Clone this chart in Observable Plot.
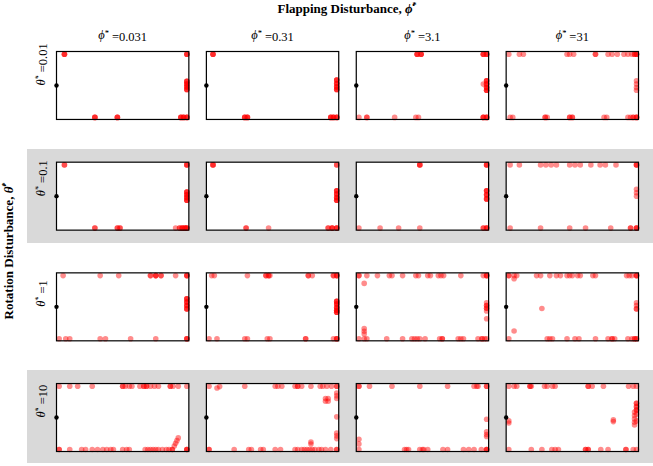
<!DOCTYPE html>
<html><head><meta charset="utf-8">
<script src="https://cdn.jsdelivr.net/npm/d3@7"></script>
<script src="https://cdn.jsdelivr.net/npm/@observablehq/plot@0.6"></script>
<style>
body{margin:0;background:#fff;font-family:"Liberation Serif",serif;}
#wrap{position:relative;width:653px;height:466px;overflow:hidden;background:#fff}
.band{position:absolute;left:27px;width:626px;background:#d9d9d9}
#chart{position:absolute;left:0;top:0}
#title{position:absolute;top:1px;left:0;width:694px;text-align:center;font-weight:bold;font-size:13px;line-height:16px}
#ylab{position:absolute;left:9px;top:251px;transform:translate(-50%,-50%) rotate(-90deg);white-space:nowrap;font-weight:bold;font-size:13px;line-height:16px}
sup{font-size:8px;vertical-align:5px;line-height:0}
</style></head>
<body>
<div id="wrap">
  <div class="band" style="top:149px;height:94px"></div>
  <div class="band" style="top:370px;height:93px"></div>
  <div id="chart"></div>
  <div id="title">Flapping Disturbance, <i>ϕ̇</i><sup>*</sup></div>
  <div id="ylab">Rotation Disturbance, <i>θ̇</i><sup>*</sup></div>
</div>
<script>
// Row (rotation disturbance) and column (flapping disturbance) values
const rowValues = ["0.01", "0.1", "1", "10"];
const colValues = ["0.031", "0.31", "3.1", "31"];
// initial state (black dot)
const startX = [0];
const startY = [0.5];

// final positions per panel: [x, y, count]
const r1c1 = [[0.06,0.96,3],[0.985,0.96,3],[0.985,0.56,3],[0.985,0.52,3],[0.985,0.48,3],[0.985,0.44,3],[0.29,0.03,3],[0.46,0.03,3],[0.94,0.03,3],[0.96,0.03,3],[0.985,0.03,3]];
const r1c2 = [[0.05,0.96,3],[0.985,0.58,3],[0.985,0.53,3],[0.985,0.48,3],[0.985,0.44,3],[0.29,0.03,3],[0.31,0.03,3],[0.94,0.03,3],[0.96,0.03,3],[0.985,0.03,3]];
const r1c3 = [[0.46,0.96,3],[0.49,0.96,3],[0.96,0.96,3],[0.985,0.96,3],[0.985,0.57,3],[0.985,0.52,3],[0.985,0.47,3],[0.985,0.43,3],[0.96,0.52,1],[0.02,0.03,1],[0.08,0.03,2],[0.29,0.03,1],[0.45,0.03,1],[0.47,0.03,1],[0.96,0.03,3],[0.985,0.03,3]];
const r1c4 = [[0.02,0.96,1],[0.10,0.96,1],[0.13,0.96,1],[0.46,0.96,1],[0.48,0.96,1],[0.51,0.96,1],[0.675,0.96,2],[0.77,0.96,1],[0.80,0.96,1],[0.84,0.96,1],[0.89,0.96,1],[0.92,0.96,1],[0.95,0.96,1],[0.97,0.96,2],[0.985,0.96,3],
  [0.985,0.57,1],[0.985,0.52,1],[0.985,0.47,1],[0.985,0.43,1],
  [0.03,0.03,1],[0.05,0.03,1],[0.295,0.03,2],[0.31,0.03,1],[0.48,0.03,2],[0.50,0.03,2],[0.74,0.03,1],[0.76,0.03,1],[0.92,0.03,1],[0.94,0.03,1],[0.96,0.03,2],[0.985,0.03,3]];

const r2c1 = [[0.06,0.96,2],[0.985,0.96,3],[0.985,0.56,3],[0.985,0.52,3],[0.985,0.48,3],[0.985,0.44,3],[0.29,0.03,2],[0.46,0.03,2],[0.48,0.03,2],[0.90,0.03,1],[0.93,0.03,2],[0.95,0.03,3],[0.97,0.03,3],[0.985,0.03,3]];
const r2c2 = [[0.05,0.96,3],[0.985,0.96,2],[0.985,0.58,3],[0.985,0.53,3],[0.985,0.48,3],[0.985,0.44,3],[0.30,0.03,2],[0.47,0.03,1],[0.92,0.03,2],[0.95,0.03,3],[0.985,0.03,3]];
const r2c3 = [[0.48,0.96,3],[0.985,0.96,3],[0.985,0.58,3],[0.985,0.52,3],[0.985,0.46,3],[0.02,0.03,1],[0.18,0.03,1],[0.32,0.03,1],[0.48,0.03,1],[0.96,0.03,2],[0.985,0.03,3]];
const r2c4 = [[0.03,0.96,1],[0.10,0.96,1],[0.26,0.96,1],[0.30,0.96,1],[0.34,0.96,1],[0.38,0.96,1],[0.48,0.96,1],[0.52,0.96,1],[0.56,0.96,1],[0.64,0.96,1],[0.71,0.96,1],[0.75,0.96,1],[0.83,0.96,1],[0.985,0.96,3],
  [0.985,0.6,1],[0.985,0.55,1],[0.985,0.5,1],
  [0.03,0.03,1],[0.26,0.03,1],[0.48,0.03,1],[0.60,0.03,1],[0.79,0.03,1],[0.94,0.03,2],[0.985,0.03,3]];

const r3c1 = [[0.05,0.96,1],[0.33,0.96,1],[0.47,0.96,1],[0.71,0.96,2],[0.75,0.96,3],[0.79,0.96,2],[0.90,0.96,1],[0.985,0.96,3],
  [0.985,0.62,3],[0.985,0.57,3],[0.985,0.52,3],[0.985,0.47,3],
  [0.02,0.03,1],[0.07,0.03,1],[0.10,0.03,1],[0.33,0.03,1],[0.37,0.03,1],[0.56,0.03,1],[0.75,0.03,1],[0.985,0.03,3]];
const r3c2 = [[0.04,0.96,1],[0.06,0.96,1],[0.31,0.96,1],[0.45,0.96,2],[0.47,0.96,2],[0.48,0.96,1],[0.77,0.96,2],[0.80,0.96,1],[0.96,0.96,2],[0.985,0.96,3],
  [0.985,0.58,3],[0.985,0.54,3],[0.985,0.49,3],[0.985,0.45,3],[0.985,0.42,3],
  [0.02,0.03,1],[0.08,0.03,1],[0.29,0.03,1],[0.31,0.03,1],[0.46,0.03,1],[0.48,0.03,1],[0.75,0.03,2],[0.96,0.03,1],[0.985,0.03,3]];
const r3c3 = [[0.02,0.96,2],[0.08,0.96,1],[0.16,0.96,1],[0.25,0.96,1],[0.27,0.96,1],[0.35,0.96,1],[0.45,0.96,1],[0.47,0.96,1],[0.54,0.96,1],[0.56,0.96,1],[0.62,0.96,1],[0.64,0.96,1],[0.66,0.96,1],[0.79,0.96,1],[0.96,0.96,1],[0.985,0.96,3],
  [0.06,0.845,1],[0.06,0.18,1],[0.06,0.14,1],[0.06,0.10,1],
  [0.985,0.56,1],[0.985,0.52,2],[0.985,0.48,2],[0.985,0.44,1],[0.985,0.325,1],
  [0.02,0.03,1],[0.06,0.03,1],[0.08,0.03,1],[0.23,0.03,1],[0.35,0.03,1],[0.42,0.03,1],[0.44,0.03,1],[0.46,0.03,1],[0.48,0.03,1],[0.52,0.03,1],[0.63,0.03,1],[0.65,0.03,2],[0.77,0.03,1],[0.79,0.03,1],[0.81,0.03,1],[0.92,0.03,1],[0.95,0.03,2],[0.97,0.03,1],[0.985,0.03,1]];
const r3c4 = [[0.02,0.96,2],[0.06,0.96,1],[0.08,0.96,1],[0.06,0.915,1],[0.23,0.96,1],[0.26,0.96,1],[0.33,0.96,1],[0.38,0.96,1],[0.41,0.96,1],[0.46,0.96,1],[0.48,0.96,1],[0.50,0.96,1],[0.54,0.96,1],[0.56,0.96,1],[0.655,0.96,1],[0.675,0.96,1],[0.91,0.96,1],[0.93,0.96,1],[0.95,0.96,1],[0.985,0.96,3],
  [0.27,0.475,1],[0.06,0.145,1],
  [0.985,0.56,1],[0.985,0.52,1],[0.985,0.47,2],
  [0.02,0.03,1],[0.31,0.03,1],[0.33,0.03,1],[0.35,0.03,1],[0.46,0.03,1],[0.52,0.03,1],[0.55,0.03,1],[0.675,0.03,1],[0.77,0.03,1],[0.80,0.03,2],[0.82,0.03,1],[0.92,0.03,1],[0.95,0.03,1],[0.97,0.03,2],[0.985,0.03,2]];

const r4c1 = [[0.02,0.96,1],[0.10,0.96,1],[0.16,0.96,1],[0.27,0.96,1],[0.50,0.96,2],[0.52,0.96,1],[0.55,0.96,1],[0.57,0.96,1],[0.63,0.96,1],[0.66,0.96,2],[0.68,0.96,2],[0.71,0.96,1],[0.74,0.96,1],[0.77,0.96,1],[0.86,0.96,2],[0.88,0.96,1],[0.92,0.96,1],[0.985,0.96,1],
  [0.02,0.03,2],[0.10,0.03,1],[0.19,0.03,1],[0.22,0.03,1],[0.27,0.03,1],[0.31,0.03,1],[0.35,0.03,1],[0.38,0.03,1],[0.41,0.03,1],[0.43,0.03,1],[0.50,0.03,1],[0.53,0.03,1],[0.55,0.03,1],[0.67,0.03,1],[0.69,0.03,1],[0.71,0.03,1],[0.73,0.03,1],[0.75,0.03,1],[0.77,0.03,1],[0.80,0.03,1],[0.83,0.03,1],[0.85,0.03,1],[0.875,0.03,2],[0.985,0.03,3],
  [0.89,0.08,1],[0.90,0.12,1],[0.91,0.16,1],[0.92,0.20,1]];
const r4c2 = [[0.02,0.96,1],[0.08,0.935,1],[0.10,0.955,1],[0.29,0.96,1],[0.52,0.96,1],[0.54,0.96,1],[0.57,0.96,1],[0.67,0.96,1],[0.69,0.96,2],[0.72,0.96,1],[0.79,0.96,1],[0.86,0.96,1],[0.88,0.96,1],[0.91,0.96,1],[0.945,0.96,1],[0.985,0.96,2],
  [0.985,0.86,1],[0.985,0.82,1],[0.985,0.78,1],[0.90,0.78,1],[0.92,0.78,1],[0.90,0.74,1],[0.92,0.74,1],[0.985,0.51,1],[0.985,0.27,1],[0.985,0.23,1],[0.985,0.19,1],
  [0.79,0.14,1],[0.79,0.11,1],
  [0.02,0.03,2],[0.21,0.03,1],[0.32,0.03,1],[0.34,0.03,1],[0.41,0.03,1],[0.43,0.03,1],[0.52,0.03,1],[0.56,0.03,1],[0.67,0.03,1],[0.69,0.03,1],[0.72,0.03,1],[0.74,0.03,1],[0.76,0.03,1],[0.78,0.03,1],[0.80,0.03,1],[0.82,0.03,1],[0.85,0.03,1],[0.87,0.03,1],[0.90,0.03,1],[0.94,0.03,1],[0.985,0.03,2]];
const r4c3 = [[0.02,0.96,2],[0.10,0.96,1],[0.27,0.96,1],[0.48,0.96,1],[0.69,0.96,1],[0.89,0.96,1],[0.91,0.96,1],[0.92,0.96,1],[0.985,0.96,2],
  [0.02,0.18,1],[0.02,0.11,1],
  [0.985,0.475,1],[0.985,0.29,1],[0.985,0.25,1],[0.985,0.22,1],
  [0.02,0.03,1],[0.365,0.03,1],[0.38,0.03,1],[0.395,0.03,1],[0.48,0.03,1],[0.50,0.03,1],[0.51,0.03,1],[0.54,0.03,1],[0.655,0.03,1],[0.69,0.03,1],[0.81,0.03,1],[0.85,0.03,1],[0.89,0.03,1],[0.945,0.03,1],[0.985,0.03,3]];
const r4c4 = [[0.02,0.96,1],[0.06,0.96,1],[0.08,0.96,1],[0.18,0.96,2],[0.19,0.96,1],[0.29,0.96,1],[0.31,0.96,1],[0.35,0.96,1],[0.37,0.96,1],[0.62,0.96,2],[0.65,0.96,1],[0.735,0.96,1],[0.925,0.96,1],[0.96,0.96,1],[0.985,0.96,1],
  [0.02,0.42,1],[0.02,0.45,1],
  [0.81,0.465,1],[0.81,0.44,1],
  [0.985,0.71,2],[0.985,0.66,2],[0.985,0.61,2],[0.97,0.58,1],[0.97,0.53,1],[0.97,0.48,1],[0.97,0.43,1],[0.97,0.39,1],[0.985,0.55,1],[0.985,0.45,1],
  [0.02,0.03,1],[0.19,0.03,1],[0.27,0.03,1],[0.345,0.03,1],[0.37,0.03,1],[0.395,0.03,1],[0.60,0.03,2],[0.62,0.03,2],[0.715,0.03,1],[0.77,0.03,1],[0.905,0.03,2],[0.96,0.03,1],[0.985,0.03,1]];

const panelGrid = [[r1c1,r1c2,r1c3,r1c4],[r2c1,r2c2,r2c3,r2c4],[r3c1,r3c2,r3c3,r3c4],[r4c1,r4c2,r4c3,r4c4]];

const records = [];
rowValues.forEach((r, i) => colValues.forEach((c, j) => {
  for (const [x, y, n] of panelGrid[i][j]) for (let k = 0; k < n; k++) records.push({row: r, col: c, x, y});
}));
const starts = startX.map((x, i) => ({x, y: startY[i]}));
const colHeads = colValues.map(c => ({col: c, row: rowValues[0], label: "ϕ̇* =" + c}));
const rowHeads = rowValues.map(r => ({row: r, col: colValues[0], label: "θ̇* =" + r}));

const chart = Plot.plot({
  width: 653, height: 466,
  marginLeft: 56, marginRight: 15, marginTop: 51, marginBottom: 15,
  style: {background: "transparent", fontFamily: "Liberation Serif", fontSize: "12.5px", overflow: "visible"},
  fx: {domain: colValues, paddingInner: 0.117, paddingOuter: 0, round: false, axis: null, label: null},
  fy: {domain: rowValues, paddingInner: 0.386, paddingOuter: 0, round: false, axis: null, label: null},
  x: {domain: [0, 1], axis: null},
  y: {domain: [0, 1], axis: null},
  marks: [
    Plot.frame({fill: "white"}),
    Plot.dot(records, {x: "x", y: "y", fx: "col", fy: "row", r: 2.8, fill: "#ff0000", fillOpacity: 0.45, stroke: "none"}),
    Plot.frame({stroke: "black", strokeWidth: 1.2}),
    Plot.dot(starts, {x: "x", y: "y", r: 2.2, fill: "black"}),
    Plot.text(colHeads, {fx: "col", fy: "row", frameAnchor: "top", dy: -21, text: "label", fontSize: 12.5, fill: "black"}),
    Plot.text(rowHeads, {fx: "col", fy: "row", frameAnchor: "left", dx: -16, rotate: -90, text: "label", fontSize: 12.5, fill: "black"})
  ]
});
document.getElementById("chart").appendChild(chart);

// typeset symbol labels: italic symbol with dot, superscript star
d3.select(chart).selectAll("text").each(function() {
  const t = this.textContent;
  const m = /^(.)\u0307\* =(.*)$/.exec(t);
  if (!m) return;
  const sel = d3.select(this);
  sel.text(null);
  sel.append("tspan").attr("font-style", "italic").text(m[1] + "\u0307");
  sel.append("tspan").attr("font-size", 8).attr("dy", "-0.45em").text("*");
  sel.append("tspan").attr("dy", "0.45em").text(" =" + m[2]);
});
</script>
</body></html>
